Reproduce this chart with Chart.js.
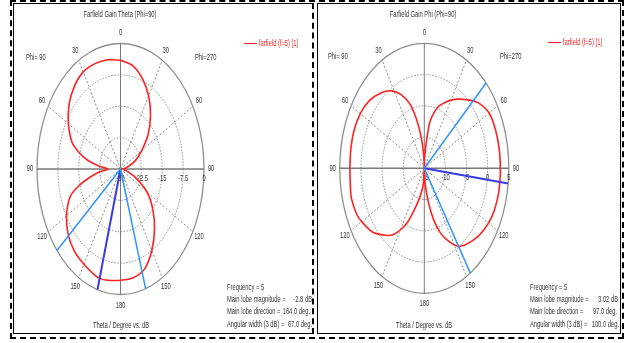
<!DOCTYPE html>
<html>
<head>
<meta charset="utf-8">
<script src="https://cdn.jsdelivr.net/npm/chart.js@4/dist/chart.umd.min.js"></script>
<style>
  body { margin: 0; width: 630px; height: 343px; background: #fff; position: relative; overflow: hidden;
         font-family: "Liberation Sans", Arial, sans-serif; }
  .frame { position: absolute; left: 10px; top: 0; width: 610px; height: 335px; border: 2px dashed #000; }
  .panel { position: absolute; top: 2.5px; height: 329px; border: 1.5px solid #000; }
  .txt { position: absolute; font-size: 8.5px; line-height: 10px; color: #333; white-space: pre; }
  .leg { position: absolute; height: 1.6px; background: #f22; }
  canvas { position: absolute; left: 0; top: 0; }
</style>
</head>
<body>
<div class="frame"></div>
<div class="panel" style="left:12.5px;width:298px;border-right:2.5px dashed #000"></div>
<div class="panel" style="left:316.5px;width:302px"></div>
<canvas id="thetaChart" width="630" height="343"></canvas>
<canvas id="phiChart" width="630" height="343"></canvas>
<script>
// Farfield gain cuts — angle counted from top, left half first (0..180), right half back (180..360)
const angTicks  = [0, 30, 60, 90, 120, 150, 180, 210, 240, 270, 300, 330];
const angLabels = ['0', '30', '60', '90', '120', '150', '180', '150', '120', '90', '60', '30'];

// Theta cut (Phi=90), dB
const thetaAng  = [0, 10, 20, 30, 40, 50, 60, 70, 75, 80, 85, 90, 95, 100, 105, 110, 120, 130, 140, 150,
                   160, 164, 170, 180, 190, 200, 210, 220, 230, 240, 250, 260, 265, 270, 275, 280, 290,
                   300, 310, 320, 330, 340, 350, 360];
const thetaGain = [-4.0, -3.5, -3.2, -3.2, -4.2, -5.9, -8.4, -11.5, -14.5, -18, -22.3, -25.5, -22.5, -19, -14.5, -10.8, -7.6, -5.5, -4.3, -3.7,
                   -3.0, -2.8, -3.0, -3.4, -3.6, -4.6, -7.5, -11, -14.8, -19, -24.5, -28, -29, -29.3, -28.5, -27.5, -24.5,
                   -21.2, -17, -13.2, -9.8, -7.0, -4.9, -4.0];
const thetaTicks = [-30, -22.5, -15, -7.5, 0];
const thetaBeam  = [130.5, 197.5];
const thetaMain  = 164;

// Phi cut (Phi=90), dB
const phiAng  = [0, 3, 6, 9, 13, 18, 25, 32, 40, 50, 60, 70, 80, 90, 100, 106, 115, 120, 130, 140, 145, 150,
                 155, 160, 165, 170, 175, 180, 185, 190, 195, 200, 205, 213, 225, 235, 245, 255, 263, 270,
                 280, 290, 300, 310, 320, 330, 340, 345, 350, 353, 355, 357, 360];
const phiGain = [-15, -13.5, -11.5, -9.6, -7.1, -4.3, -2.0, -0.4, 0.8, 1.9, 2.5, 2.7, 2.65, 2.6, 2.75, 2.9, 2.6, 2.1, 0.9, -1.0, -2.0, -3.6,
                 -5.4, -7.8, -9.6, -11.2, -12.5, -15, -12.5, -9.5, -6.5, -4.1, -2.4, -0.1, 1.3, 2.2, 2.8, 3.0, 3.02, 3.0,
                 3.0, 2.95, 2.7, 1.4, -0.6, -2.4, -4.3, -5.6, -7.5, -10.4, -12, -13.5, -15];
const phiTicks = [-15, -10, -5, 0, 5];
const phiBeam  = [213, 313];
const phiMain  = 263;

const SX = 0.68;            // picture is squeezed sideways
const FONT = '8.5px "Liberation Sans", Arial, sans-serif';

function toXY(ang, r) {
  const a = ang * Math.PI / 180;
  return { x: -Math.sin(a) * r, y: Math.cos(a) * r };
}
function curve(ang, gain, lo, hi) {
  return ang.map((a, i) => toXY(a, Math.max(0, (gain[i] - lo) / (hi - lo))));
}
function ray(a) { return [toXY(a, 0), toXY(a, 1)]; }

function label(ctx, s, px, py) {
  ctx.save();
  ctx.translate(px, py);
  ctx.scale(SX, 1);
  ctx.fillText(s, 0, 0);
  ctx.restore();
}

const polarGrid = {
  id: 'polarGrid',
  beforeDatasetsDraw(chart, args, opts) {
    const { ctx, scales: { x, y } } = chart;
    const cx = x.getPixelForValue(0), cy = y.getPixelForValue(0);
    const rx = x.getPixelForValue(1) - cx, ry = cy - y.getPixelForValue(1);
    const t = opts.ticks, lo = t[0], hi = t[t.length - 1];
    ctx.save();
    // rings
    t.forEach(v => {
      const f = (v - lo) / (hi - lo);
      if (f <= 0) return;
      ctx.beginPath();
      ctx.ellipse(cx, cy, rx * f, ry * f, 0, 0, Math.PI * 2);
      if (f >= 1) { ctx.setLineDash([]); ctx.strokeStyle = '#8f8f8f'; ctx.lineWidth = 1.3; }
      else { ctx.setLineDash([1.5, 1.5]); ctx.strokeStyle = '#8a8a8a'; ctx.lineWidth = 1; }
      ctx.stroke();
    });
    // spokes
    angTicks.forEach(a => {
      const p = toXY(a, 1);
      const axis = a % 90 === 0;
      ctx.setLineDash(axis ? [] : [2, 2]);
      ctx.strokeStyle = axis ? '#7a7a7a' : '#8a8a8a';
      ctx.lineWidth = a % 180 === 90 ? 1.6 : 1;
      ctx.beginPath();
      ctx.moveTo(cx, cy);
      ctx.lineTo(x.getPixelForValue(p.x), y.getPixelForValue(p.y));
      ctx.stroke();
    });
    ctx.setLineDash([]);
    ctx.fillStyle = '#333';
    ctx.font = FONT;
    ctx.textAlign = 'center';
    ctx.textBaseline = 'middle';
    // angle labels
    angTicks.forEach((a, i) => {
      const p = toXY(a, 1.085);
      label(ctx, angLabels[i], x.getPixelForValue(p.x), y.getPixelForValue(p.y));
    });
    // dB labels along the right half of the horizontal axis
    t.forEach(v => {
      const f = (v - lo) / (hi - lo);
      label(ctx, String(v), x.getPixelForValue(f), cy + 9.5);
    });
    ctx.restore();
  }
};

function makePlot(id, box, ang, gain, ticks, beam, main) {
  const lo = ticks[0], hi = ticks[ticks.length - 1];
  const line = (data, color, w) => ({ data, borderColor: color, borderWidth: w, showLine: true,
                                      pointRadius: 0, tension: 0, clip: false });
  const pattern = line(curve(ang, gain, lo, hi), '#f22', 1.6);
  pattern.tension = 0.3;
  new Chart(document.getElementById(id), {
    type: 'scatter',
    data: { datasets: [
      line(ray(beam[0]), '#2f96ff', 1.5),
      line(ray(beam[1]), '#2f96ff', 1.5),
      line(ray(main), '#3a3ae0', 2),
      pattern
    ] },
    options: {
      responsive: false, animation: false, events: [],
      layout: { padding: { left: box.cx - box.rx, right: 630 - box.cx - box.rx,
                           top: box.cy - box.ry, bottom: 343 - box.cy - box.ry } },
      plugins: { legend: { display: false }, tooltip: { enabled: false },
                 polarGrid: { ticks } },
      scales: {
        x: { type: 'linear', min: -1, max: 1, display: false },
        y: { type: 'linear', min: -1, max: 1, display: false }
      }
    },
    plugins: [polarGrid]
  });
}

makePlot('thetaChart', { cx: 120.5, cy: 169, rx: 83.5, ry: 125.5 },
         thetaAng, thetaGain, thetaTicks, thetaBeam, thetaMain);
makePlot('phiChart', { cx: 424.3, cy: 168.3, rx: 84.5, ry: 125 },
         phiAng, phiGain, phiTicks, phiBeam, phiMain);

// static texts
function txt(s, x, y, align, color) {
  const d = document.createElement('div');
  d.className = 'txt';
  d.textContent = s;
  d.style.left = x + 'px';
  d.style.top = y + 'px';
  const o = align === 'center' ? '50%' : align === 'right' ? '100%' : '0';
  d.style.transformOrigin = o + ' 50%';
  d.style.transform = 'translate(-' + o + ', -50%) scaleX(' + SX + ')';
  if (color) d.style.color = color;
  document.body.appendChild(d);
}
function legend(x, y) {
  const d = document.createElement('div');
  d.className = 'leg';
  d.style.left = x + 'px'; d.style.top = y + 'px'; d.style.width = '13px';
  document.body.appendChild(d);
}

txt('Farfield Gain Theta (Phi=90)', 120, 14, 'center');
txt('Phi= 90', 26, 57, 'left');
txt('Phi=270', 195, 57, 'left');
legend(243.5, 42.5);
txt('farfield (f=5) [1]', 258.5, 43, 'left', '#f22');
txt('Frequency = 5', 226.5, 286.5, 'left');
txt('Main lobe magnitude =', 226.5, 298.7, 'left');
txt('-2.8 dB', 312, 298.7, 'right');
txt('Main lobe direction =', 226.5, 311, 'left');
txt('164.0 deg.', 310, 311, 'right');
txt('Angular width (3 dB) =', 226.5, 324, 'left');
txt('67.0 deg.', 312, 324, 'right');
txt('Theta / Degree vs. dB', 120.5, 324.5, 'center');

txt('Farfield Gain Phi (Phi=90)', 423, 13.5, 'center');
txt('Phi= 90', 328, 56, 'left');
txt('Phi=270', 500, 56, 'left');
legend(548, 41.5);
txt('farfield (f=5) [1]', 563, 42, 'left', '#f22');
txt('Frequency = 5', 530, 286.5, 'left');
txt('Main lobe magnitude =', 530, 298.7, 'left');
txt('3.02 dB', 618, 298.7, 'right');
txt('Main lobe direction =', 530, 311, 'left');
txt('97.0 deg.', 617, 311, 'right');
txt('Angular width (3 dB) =', 530, 324, 'left');
txt('100.0 deg.', 619, 324, 'right');
txt('Theta / Degree vs. dB', 424, 324.5, 'center');
</script>
</body>
</html>
